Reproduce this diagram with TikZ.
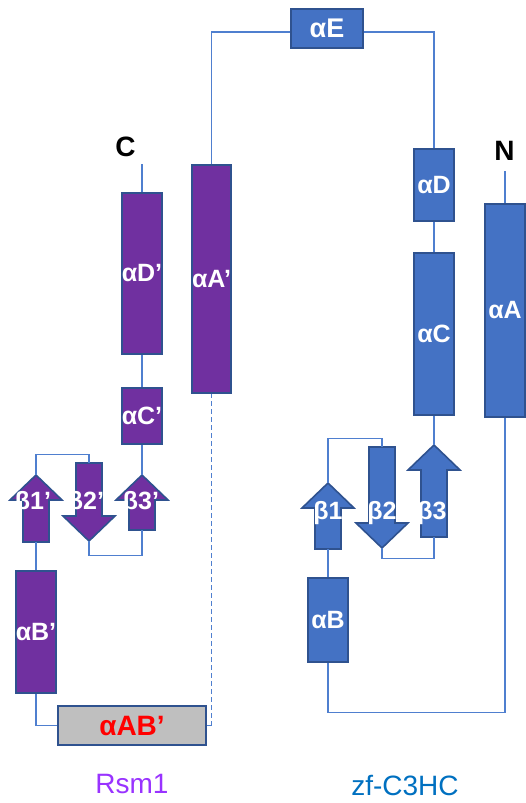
\documentclass[tikz,border=0pt]{standalone}
\usepackage{fontspec}
\setmainfont{Liberation Sans}
\definecolor{hpurple}{HTML}{7030A0}
\definecolor{hblue}{HTML}{4472C4}
\definecolor{hborder}{HTML}{2F528F}
\definecolor{lnk}{HTML}{4F7FCF}
\definecolor{rsmcol}{HTML}{9933FF}
\definecolor{zfcol}{HTML}{0070C0}
\definecolor{abgray}{HTML}{BFBFBF}
\newcommand\upstrand[5]{% name, fill, x, tip y, bottom y
  \draw[strandline, fill=#2] (#3,#4) -- (#3+26,#4+25) -- (#3+13,#4+25) -- (#3+13,#5) -- (#3-13,#5) -- (#3-13,#4+25) -- (#3-26,#4+25) -- cycle;
  \node[inner sep=0, minimum width=52, minimum height={#5-#4}] (#1) at (#3,{(#4+#5)/2}) {};
}
\newcommand\downstrand[5]{% name, fill, x, top y, tip y
  \draw[strandline, fill=#2] (#3-13,#4) -- (#3+13,#4) -- (#3+13,#5-25) -- (#3+26,#5-25) -- (#3,#5) -- (#3-26,#5-25) -- (#3-13,#5-25) -- cycle;
  \node[inner sep=0, minimum width=52, minimum height={#5-#4}] (#1) at (#3,{(#4+#5)/2}) {};
}
\begin{document}
\begin{tikzpicture}[x=1pt,y=-1pt,
  helix/.style={draw=hborder, line width=1.6pt, inner sep=0, text=white,
    font=\bfseries\fontsize{25}{25}\selectfont},
  hP/.style={helix, fill=hpurple},
  hB/.style={helix, fill=hblue},
  strandline/.style={draw=hborder, line width=1.6pt, line join=miter},
  blabel/.style={text=white, inner sep=0, font=\bfseries\fontsize{25}{25}\selectfont},
  link/.style={draw=lnk, line width=1.1pt},
  endlabel/.style={text=black, inner sep=0, font=\bfseries\fontsize{28}{28}\selectfont}
]
\useasboundingbox (0,0) rectangle (525,803);

% ---------- Rsm1 (purple) ----------
\node[hP, minimum width=40, minimum height=161] (aDp) at (142,273.5) {αD’};
\node[hP, minimum width=39, minimum height=228] (aAp) at (211.5,279) {αA’};
\node[hP, minimum width=40, minimum height=56] (aCp) at (142,416) {αC’};
\node[hP, minimum width=40, minimum height=122] (aBp) at (36,632) {αB’};
\node[helix, fill=abgray, text=red, minimum width=148, minimum height=39,
      font=\bfseries\fontsize{28}{28}\selectfont] (aABp) at (132,725.5) {αAB’};

\upstrand{b1p}{hpurple}{36}{475}{542}
\downstrand{b2p}{hpurple}{89}{463}{541}
\upstrand{b3p}{hpurple}{142}{475}{530}
\node[blabel] (lb1p) at (33,503) {β1’};
\node[blabel] (lb2p) at (86,503) {β2’};
\node[blabel] (lb3p) at (141,503) {β3’};

\node[endlabel] (lC) at (125.5,147) {C};
\coordinate (cC) at (142,164);

% ---------- zf-C3HC (blue) ----------
\node[hB, minimum width=72, minimum height=39, font=\bfseries\fontsize{27}{27}\selectfont] (aE) at (327,28.5) {αE};
\node[hB, minimum width=40, minimum height=72] (aD) at (434,185) {αD};
\node[hB, minimum width=40, minimum height=162] (aC) at (434,334) {αC};
\node[hB, minimum width=40, minimum height=213] (aA) at (505,310.5) {αA};
\node[hB, minimum width=40, minimum height=84] (aB) at (328,620) {αB};

\upstrand{b1}{hblue}{328}{483}{549}
\downstrand{b2}{hblue}{382}{447}{548}
\upstrand{b3}{hblue}{434}{445}{537}
\node[blabel] (lb1) at (328,513) {β1};
\node[blabel] (lb2) at (382,513) {β2};
\node[blabel] (lb3) at (432,513) {β3};

\node[endlabel] (lN) at (504.5,151) {N};
\coordinate (cN) at (505,171);

% ---------- connectors ----------
\draw[link] (cC) -- (aDp.north);
\draw[link] (aDp.south) -- (aCp.north);
\draw[link] (aCp.south) -- (b3p.north);
\draw[link] (b3p.south) -- ++(0,25) -| (b2p.south);
\draw[link] (b2p.north) -- ++(0,-8) -| (b1p.north);
\draw[link] (b1p.south) -- (aBp.north);
\draw[link] (aBp.south) |- (aABp.west);
\draw[link] (aABp.east) -- (aAp.south |- aABp.east);
\draw[link, line width=1.4pt, dash pattern=on 5pt off 3pt] (aAp.south |- aABp.east) -- (aAp.south);
\draw[link] (aAp.north) |- ([yshift=-3.5pt]aE.west);
\draw[link] ([yshift=-3.5pt]aE.east) -| (aD.north);
\draw[link] (aD.south) -- (aC.north);
\draw[link] (aC.south) -- (b3.north);
\draw[link] (b3.south) -- ++(0,21) -| (b2.south);
\draw[link] (b2.north) -- ++(0,-8) -| (b1.north);
\draw[link] (b1.south) -- (aB.north);
\draw[link] (aB.south) -- ++(0,50) -| (aA.south);
\draw[link] (cN) -- (aA.north);

% ---------- titles ----------
\node[text=rsmcol, inner sep=0, font=\fontsize{28}{28}\selectfont] (tRsm) at (132,784) {Rsm1};
\node[text=zfcol, inner sep=0, font=\fontsize{28}{28}\selectfont] (tZf) at (405,785) {zf-C3HC};
\end{tikzpicture}
\end{document}
